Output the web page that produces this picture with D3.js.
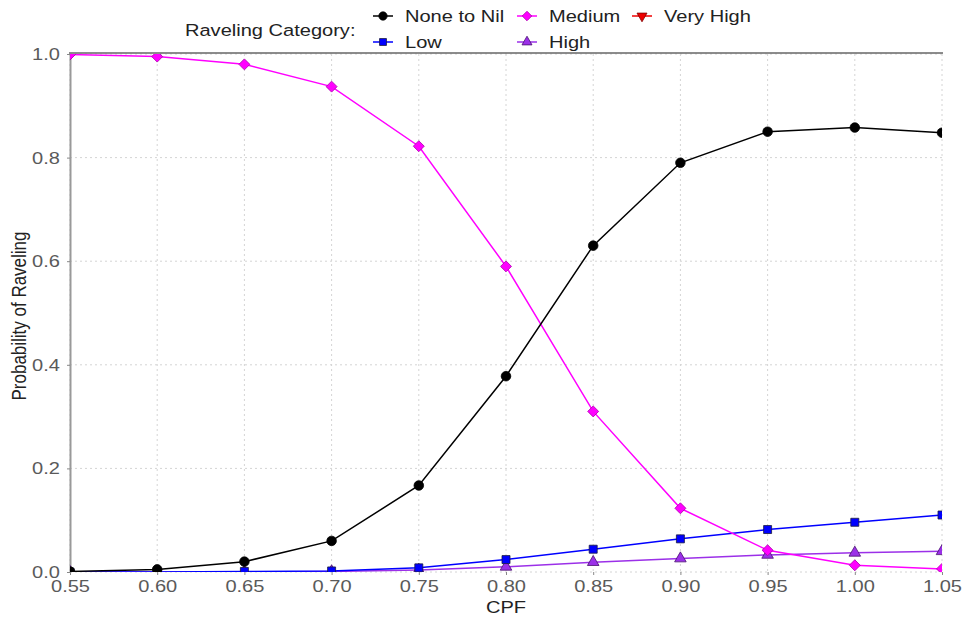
<!DOCTYPE html>
<html><head><meta charset="utf-8">
<script src="https://cdn.jsdelivr.net/npm/d3@7"></script>
<style>body{margin:0;background:#fff}svg{display:block}text{font-family:"Liberation Sans",Arial,sans-serif}</style>
</head><body><svg id="c" width="966" height="620"></svg>
<script>
const cpf = [0.55,0.60,0.65,0.70,0.75,0.80,0.85,0.90,0.95,1.00,1.05];
const noneToNil = [0.001,0.005,0.020,0.060,0.167,0.378,0.630,0.790,0.850,0.858,0.848];
const low       = [0.000,0.000,0.001,0.002,0.008,0.024,0.044,0.064,0.082,0.096,0.110];
const medium    = [0.999,0.995,0.980,0.937,0.822,0.590,0.310,0.123,0.042,0.013,0.006];
const high      = [0.000,0.000,0.000,0.001,0.004,0.010,0.019,0.026,0.033,0.037,0.040];
const veryHigh  = [null,null,null,null,null,null,null,null,null,null,null]; // not visible in the chart
const xTicks = ["0.55","0.60","0.65","0.70","0.75","0.80","0.85","0.90","0.95","1.00","1.05"];
const yTicks = ["0.0","0.2","0.4","0.6","0.8","1.0"];

const series = [
  {name:"None to Nil", values:noneToNil, color:"#000000", stroke:"#000", shape:"circle"},
  {name:"Low", values:low, color:"#0000ff", stroke:"#1a1a40", shape:"square"},
  {name:"Medium", values:medium, color:"#ff00ff", stroke:"#b000b0", shape:"diamond"},
  {name:"High", values:high, color:"#9b30e8", stroke:"#4a1070", shape:"triangle"},
  {name:"Very High", values:veryHigh, color:"#ee0000", stroke:"#800000", shape:"triangleDown"}
];
const SX = 1.18; // horizontal stretch of text seen in the reference
const svg = d3.select("#c");
const L=70,R=942,T=54,B=572;
const x = d3.scaleLinear().domain([0.55,1.05]).range([L,R]);
const y = d3.scaleLinear().domain([0,1]).range([B,T]);

svg.append("defs").append("clipPath").attr("id","clip").append("rect")
  .attr("x",L).attr("y",T).attr("width",R-L).attr("height",B-T);

// grid
svg.append("g").selectAll("line").data(xTicks).join("line")
  .attr("x1",d=>x(+d)).attr("x2",d=>x(+d)).attr("y1",T).attr("y2",B)
  .attr("stroke","#d4d4d4").attr("stroke-dasharray","2,3").attr("stroke-width",1);
svg.append("g").selectAll("line").data(yTicks).join("line")
  .attr("x1",L).attr("x2",R).attr("y1",d=>y(+d)).attr("y2",d=>y(+d))
  .attr("stroke","#d4d4d4").attr("stroke-dasharray","2,3").attr("stroke-width",1);

// axes
const xAxis = svg.append("g").attr("transform",`translate(0,${B})`)
  .call(d3.axisBottom(x).tickValues(xTicks.map(Number)).tickFormat((d,i)=>xTicks[i]).tickSize(3).tickSizeOuter(0));
xAxis.select(".domain").remove();
xAxis.selectAll("line").attr("stroke","#888");
xAxis.selectAll("text").attr("fill","#5a5a5a").attr("font-size",17).attr("dy",null).attr("y",20).attr("transform",`scale(${SX},1)`);
const yAxis = svg.append("g").attr("transform",`translate(${L},0)`)
  .call(d3.axisLeft(y).tickValues(yTicks.map(Number)).tickFormat((d,i)=>yTicks[i]).tickSize(3).tickSizeOuter(0));
yAxis.select(".domain").attr("stroke","#999").attr("stroke-width",2);
yAxis.selectAll("line").attr("stroke","#888");
yAxis.selectAll("text").attr("fill","#5a5a5a").attr("font-size",17).attr("x",-8.5).attr("transform",`scale(${SX},1)`);
// top border
svg.append("line").attr("x1",L-1).attr("x2",R+1).attr("y1",T-1).attr("y2",T-1).attr("stroke","#666").attr("stroke-width",1.5);

svg.append("text").attr("transform",`translate(${(L+R)/2},613) scale(${SX},1)`).attr("text-anchor","middle").attr("font-size",17).attr("fill","#222").text("CPF");
svg.append("text").attr("transform",`translate(26,316) rotate(-90) scale(1,${SX})`).attr("text-anchor","middle").attr("font-size",17).attr("fill","#222").text("Probability of Raveling");

function sym(shape, scale){
  const k = scale||1;
  const m = {circle:[d3.symbolCircle,72],square:[d3.symbolSquare,64],diamond:[d3.symbolSquare,60],triangle:[d3.symbolTriangle,58],triangleDown:[d3.symbolTriangle,58]};
  return d3.symbol().type(m[shape][0]).size(m[shape][1]*k)();
}
function rot(shape){ return shape==="triangleDown"?" rotate(180)":(shape==="diamond"?" rotate(45)":""); }
const line = d3.line().defined(d=>d!=null).x((d,i)=>x(cpf[i])).y(d=>y(d));
const plot = svg.append("g").attr("clip-path","url(#clip)");
const order = [4,3,1,2,0];
order.forEach(k=>{
  const s = series[k];
  const g = plot.append("g");
  g.append("path").attr("d",line(s.values)).attr("fill","none").attr("stroke",s.color).attr("stroke-width",1.5);
  g.selectAll("path.m").data(s.values.map((v,i)=>({v,i})).filter(d=>d.v!=null)).join("path").attr("class","m")
    .attr("d",sym(s.shape))
    .attr("transform",d=>`translate(${x(cpf[d.i])},${y(d.v)})${rot(s.shape)}`)
    .attr("fill",s.color).attr("stroke",s.stroke).attr("stroke-width",0.8);
});

// legend
svg.append("text").attr("transform",`translate(185,36) scale(${SX},1)`).attr("font-size",17).attr("fill","#222").text("Raveling Category:");
const legPos = [[383,16],[383,42],[527,16],[527,42],[642,16]];
series.forEach((s,i)=>{
  const [lx,ly]=legPos[i];
  svg.append("line").attr("x1",lx-10).attr("x2",lx+10).attr("y1",ly).attr("y2",ly).attr("stroke",s.color).attr("stroke-width",1.5);
  svg.append("path").attr("d",sym(s.shape,0.75)).attr("transform",`translate(${lx},${ly})${rot(s.shape)}`)
    .attr("fill",s.color).attr("stroke",s.stroke).attr("stroke-width",0.8);
  svg.append("text").attr("transform",`translate(${lx+22},${ly+6}) scale(${SX},1)`).attr("font-size",17).attr("fill","#222").text(s.name);
});
</script></body></html>
